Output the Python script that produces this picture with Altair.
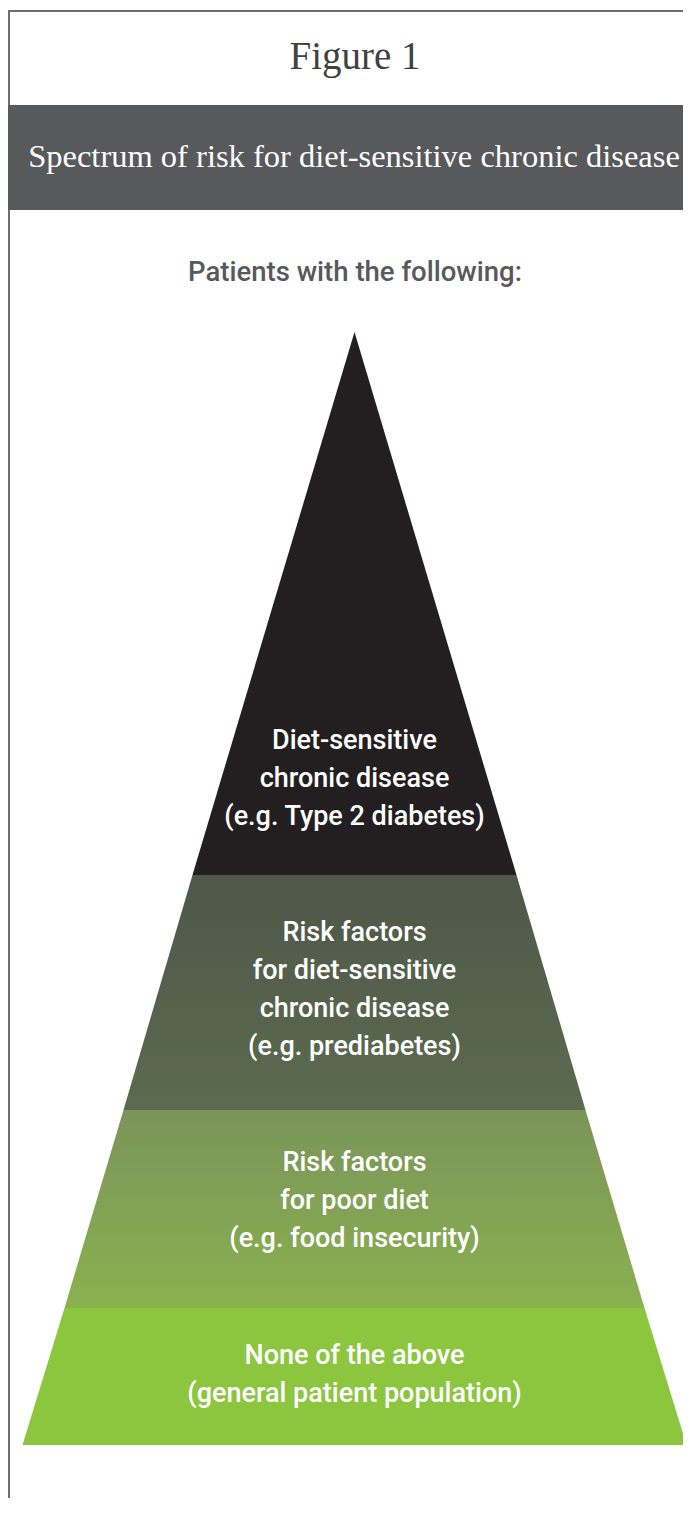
import altair as alt
import pandas as pd

# ---- data ----
layer_names = ["disease", "risk_disease", "risk_diet", "none"]
# boundary depths measured from the apex (top, bottom) of each band
band_top = [0, 543, 778, 976]
band_bottom = [543, 778, 976, 1113]
# half-width of the pyramid at each band's top and bottom
half_top = [0, 162, 231, 290]
half_bottom = [162, 231, 290, 332]
labels = [
    "Diet-sensitive\nchronic disease\n(e.g. Type 2 diabetes)",
    "Risk factors\nfor diet-sensitive\nchronic disease\n(e.g. prediabetes)",
    "Risk factors\nfor poor diet\n(e.g. food insecurity)",
    "None of the above\n(general patient population)",
]
# depth of each label's first line
label_depth = [409, 601, 831, 1024]
grad_top = ["#231f20", "#4f5749", "#7a9459", "#8cc63f"]
grad_bottom = ["#231f20", "#5c6b4f", "#8ab14f", "#8cc63f"]

W, H = 675, 1490
OX, OY = 8, 8          # page offset of the chart origin
APEX_X, APEX_Y = 354.5, 332
xs = alt.Scale(domain=[OX - APEX_X, OX + W - APEX_X], nice=False, zero=False)
ys = alt.Scale(domain=[OY - APEX_Y, OY + H - APEX_Y], nice=False, zero=False, reverse=True)

layers = []
for i, name in enumerate(layer_names):
    df = pd.DataFrame({
        "depth": [band_top[i], band_bottom[i]],
        "left": [-half_top[i], -half_bottom[i]],
        "right": [half_top[i], half_bottom[i]],
    })
    grad = alt.Gradient(
        gradient="linear", x1=0, y1=0, x2=0, y2=1,
        stops=[alt.GradientStop(color=grad_top[i], offset=0),
               alt.GradientStop(color=grad_bottom[i], offset=1)],
    )
    area = alt.Chart(df).mark_area(orient="horizontal", color=grad).encode(
        y=alt.Y("depth:Q", scale=ys, axis=None),
        x=alt.X("left:Q", scale=xs, axis=None),
        x2="right:Q",
    )
    layers.append(area)

lab_df = pd.DataFrame({"label": labels, "depth": label_depth, "cx": [0, 0, 0, 0]})
text = alt.Chart(lab_df).mark_text(
    font="Roboto, sans-serif", fontSize=27, fontWeight=500, color="white",
    lineHeight=38, align="center", baseline="middle", lineBreak="\n",
).encode(
    x=alt.X("cx:Q", scale=xs, axis=None),
    y=alt.Y("depth:Q", scale=ys, axis=None),
    text="label:N",
)

def px(x):
    return x - OX

def py(y):
    return y - OY

deco = pd.DataFrame({"k": [0]})
base = alt.Chart(deco)
top_line = base.mark_rule(color="#6d6e71", strokeWidth=2).encode(
    x=alt.value(0), x2=alt.value(W), y=alt.value(py(11)))
left_line = base.mark_rule(color="#6d6e71", strokeWidth=2).encode(
    x=alt.value(1), y=alt.value(py(11)), y2=alt.value(H))
banner = base.mark_rect(color="#58595b").encode(
    x=alt.value(0), x2=alt.value(W), y=alt.value(py(105)), y2=alt.value(py(210)))
fig_title = base.mark_text(
    text="Figure 1", font="Liberation Serif, serif", fontSize=39,
    color="#414042", align="center", baseline="middle",
).encode(x=alt.value(px(355)), y=alt.value(py(57)))
banner_text = base.mark_text(
    text="Spectrum of risk for diet-sensitive chronic disease",
    font="Liberation Serif, serif", fontSize=32.5,
    color="white", align="center", baseline="middle",
).encode(x=alt.value(px(354)), y=alt.value(py(157)))
sub = base.mark_text(
    text="Patients with the following:", font="Roboto, sans-serif", fontWeight=500,
    fontSize=27.5, color="#58595b", align="center", baseline="middle",
).encode(x=alt.value(px(355)), y=alt.value(py(273)))

chart = alt.layer(
    top_line, left_line, banner, fig_title, banner_text, sub, *layers, text
).properties(
    width=W, height=H,
    autosize=alt.AutoSizeParams(type="none"),
    padding=0,
).configure_view(stroke=None)

chart.save("out.html", embed_options={"renderer": "svg", "actions": False})
